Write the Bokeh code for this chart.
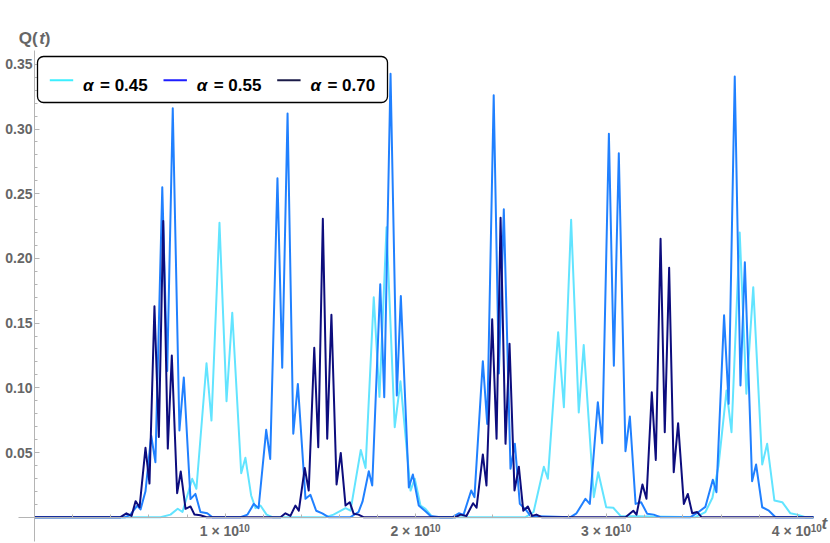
from bokeh.plotting import figure
from bokeh.models import FixedTicker, Label, BoxAnnotation, Range1d, PrintfTickFormatter
from bokeh.embed import file_html
from bokeh.resources import INLINE

# ---------------- data (t in units of 1e10) ----------------
ALPHAS = [0.45, 0.55, 0.70]

T_045 = [0.0, 0.661, 0.713, 0.751, 0.776, 0.827, 0.849, 0.902, 0.928, 0.970,
         1.007, 1.037, 1.084, 1.106, 1.136, 1.159, 1.185, 1.217, 1.248,
         1.526, 1.568, 1.631, 1.657, 1.711, 1.736, 1.779, 1.809, 1.846, 1.889,
         1.919, 1.972, 1.994, 2.024, 2.050, 2.087,
         2.575, 2.617, 2.671, 2.692, 2.746, 2.776, 2.814, 2.854, 2.880, 2.933,
         2.956, 2.998, 3.035, 3.073,
         3.466, 3.518, 3.555, 3.587, 3.629, 3.655, 3.698, 3.733, 3.769, 3.816,
         3.842, 3.880, 3.921, 3.964, 3.999, 4.043, 4.085]
Q_045 = [0, 0, 0.002, 0.0065, 0.004, 0.0297, 0.022, 0.119, 0.0747, 0.2275,
         0.0897, 0.158, 0.034, 0.0459, 0.0168, 0.007, 0.009, 0.002, 0,
         0, 0.002, 0.007, 0.005, 0.052, 0.038, 0.17, 0.093, 0.224, 0.0696,
         0.105, 0.0206, 0.0297, 0.009, 0.0065, 0,
         0, 0.004, 0.039, 0.0297, 0.143, 0.085, 0.2298, 0.081, 0.133, 0.0155,
         0.0348, 0.0077, 0.0073, 0.001,
         0, 0.004, 0.015, 0.04, 0.098, 0.0657, 0.22, 0.0954, 0.1778, 0.0407,
         0.0567, 0.0129, 0.0116, 0.003, 0.002, 0, 0]

T_055 = [0.0, 0.477, 0.503, 0.539, 0.556, 0.582, 0.612, 0.634, 0.670, 0.696,
         0.725, 0.760, 0.783, 0.818, 0.844, 0.870, 0.906, 0.933,
         1.080, 1.117, 1.150, 1.175, 1.215, 1.236, 1.274, 1.299, 1.327, 1.357,
         1.381, 1.421, 1.447, 1.477, 1.509, 1.542,
         1.657, 1.699, 1.720, 1.753, 1.771, 1.813, 1.834, 1.867, 1.900, 1.921,
         1.963, 1.984, 2.015, 2.050, 2.077, 2.129,
         2.192, 2.225, 2.250, 2.290, 2.307, 2.351, 2.374, 2.408, 2.435, 2.461,
         2.496, 2.519, 2.545, 2.575, 2.601,
         2.811, 2.842, 2.889, 2.912, 2.954, 2.977, 3.012, 3.038, 3.064, 3.099,
         3.122, 3.152, 3.181, 3.213, 3.247, 3.282,
         3.440, 3.482, 3.518, 3.557, 3.576, 3.616, 3.640, 3.672, 3.702, 3.725,
         3.763, 3.784, 3.816, 3.851, 3.886, 4.085]
Q_055 = [0, 0, 0.002, 0.009, 0.006, 0.02, 0.063, 0.0425, 0.255, 0.113,
         0.316, 0.067, 0.108, 0.014, 0.018, 0.004, 0.003, 0,
         0, 0.002, 0.0103, 0.007, 0.0675, 0.045, 0.262, 0.1155, 0.312, 0.0645,
         0.103, 0.0142, 0.0173, 0.005, 0.003, 0,
         0, 0.004, 0.012, 0.0355, 0.0245, 0.18, 0.0927, 0.3427, 0.094, 0.171,
         0.023, 0.033, 0.009, 0.0046, 0.001, 0,
         0, 0.003, 0.002, 0.0206, 0.0155, 0.1206, 0.072, 0.326, 0.111, 0.238,
         0.0374, 0.0567, 0.0103, 0.006, 0.001,
         0, 0.003, 0.0142, 0.0103, 0.0889, 0.0572, 0.2963, 0.117, 0.2813, 0.051,
         0.0778, 0.0103, 0.0116, 0.0026, 0.002, 0,
         0, 0.004, 0.008, 0.0289, 0.0193, 0.156, 0.0876, 0.3406, 0.1018, 0.197,
         0.0278, 0.0407, 0.0077, 0.005, 0, 0]

T_070 = [0.0, 0.451, 0.482, 0.509, 0.530, 0.551, 0.582, 0.603, 0.629, 0.652,
         0.675, 0.699, 0.720, 0.748, 0.767, 0.792, 0.818, 0.839, 0.870, 0.902,
         1.290, 1.316, 1.342, 1.368, 1.386, 1.417, 1.438, 1.467, 1.488, 1.512,
         1.535, 1.557, 1.584, 1.606, 1.631, 1.653, 1.674, 1.699, 1.725,
         2.208, 2.234, 2.265, 2.300, 2.318, 2.351, 2.370, 2.400, 2.423, 2.444,
         2.470, 2.491, 2.517, 2.540, 2.563, 2.587, 2.609, 2.632, 2.659,
         3.099, 3.140, 3.157, 3.188, 3.209, 3.237, 3.258, 3.283, 3.305, 3.328,
         3.352, 3.375, 3.405, 3.426, 3.449, 3.475, 3.498, 4.085]
Q_070 = [0, 0, 0.003, 0.001, 0.0124, 0.0077, 0.0536, 0.026, 0.163, 0.062,
         0.229, 0.053, 0.125, 0.0186, 0.0353, 0.0065, 0.0083, 0.002, 0.0015, 0,
         0, 0.003, 0.001, 0.009, 0.005, 0.038, 0.0206, 0.131, 0.054, 0.2306,
         0.0606, 0.1564, 0.0253, 0.0497, 0.009, 0.0116, 0.0026, 0.002, 0,
         0, 0.002, 0.001, 0.0108, 0.0073, 0.0485, 0.0245, 0.153, 0.0606, 0.2314,
         0.0567, 0.134, 0.0206, 0.039, 0.005, 0.0083, 0.001, 0.002, 0,
         0, 0.005, 0.002, 0.0253, 0.0142, 0.0966, 0.0443, 0.2151, 0.0657, 0.1927,
         0.0348, 0.0727, 0.0103, 0.018, 0.003, 0.004, 0, 0]

X_TICKS = [1, 2, 3, 4]                       # x 1e10
Y_TICKS = [0.05, 0.10, 0.15, 0.20, 0.25, 0.30, 0.35]
T_UNIT = 1e10

assert len(T_045) == len(Q_045) and len(T_055) == len(Q_055) and len(T_070) == len(Q_070)

CURVE_COLORS = ["#62E4FF", "#2080FF", "#0D0D7D"]
LEGEND_COLORS = ["#3CEFFF", "#1E1EFF", "#1B1B48"]
GRAY = "#666666"
AXIS_GRAY = "#b4b4b4"
FONT = "Liberation Sans"

W, H = 830, 543
p = figure(width=W, height=H,
           x_range=Range1d(-0.1783 * T_UNIT, 4.1741 * T_UNIT),
           y_range=Range1d(-0.02032, 0.39931),
           output_backend="svg", toolbar_location=None,
           min_border_left=0, min_border_right=0,
           min_border_top=0, min_border_bottom=0,
           outline_line_color=None, background_fill_color="white",
           border_fill_color="white")
p.grid.visible = False

for T, Q, c in [(T_045, Q_045, CURVE_COLORS[0]),
                (T_055, Q_055, CURVE_COLORS[1]),
                (T_070, Q_070, CURVE_COLORS[2])]:
    p.line([t * T_UNIT for t in T], Q, line_color=c, line_width=2,
           line_join="round")

# ---- axes crossing at origin ----
xa = p.xaxis[0]
ya = p.yaxis[0]
xa.fixed_location = 0
ya.fixed_location = 0
xa.bounds = (-0.0839 * T_UNIT, 4.085 * T_UNIT)
ya.bounds = (-0.0188, 0.3607)
for ax in (xa, ya):
    ax.axis_line_color = AXIS_GRAY
    ax.axis_line_width = 1
    ax.major_tick_line_color = AXIS_GRAY
    ax.minor_tick_line_color = AXIS_GRAY
    ax.major_tick_out = 0
    ax.minor_tick_out = 0
    ax.major_label_text_font = FONT
    ax.major_label_text_font_style = "bold"
    ax.major_label_text_font_size = "14px"
    ax.major_label_text_color = GRAY

xa.ticker = FixedTicker(ticks=[v * T_UNIT for v in X_TICKS],
                        minor_ticks=[i * 0.2 * T_UNIT for i in range(1, 21) if i % 5])
xa.major_tick_in = 4
xa.minor_tick_in = 3
xa.major_label_standoff = 6
# base "N × 10" as tick label; trailing no-break spaces leave room for exponent
xa.major_label_overrides = {v * T_UNIT: f"{v} \u00d7 10\u00a0\u00a0\u00a0" for v in X_TICKS}

ya.ticker = FixedTicker(ticks=Y_TICKS,
                        minor_ticks=[i * 0.01 for i in range(1, 36) if i % 5])
ya.formatter = PrintfTickFormatter(format="%.2f")
ya.major_tick_in = 5
ya.minor_tick_in = 3
ya.major_label_standoff = 2

# exponent of the x tick labels
for v in X_TICKS:
    p.add_layout(Label(x=v * T_UNIT, y=H - 527.3, x_units="data", y_units="screen",
                       text="10", text_align="left", x_offset=13.5,
                       text_baseline="alphabetic", text_font=FONT,
                       text_font_style="bold", text_font_size="10px",
                       text_color=GRAY))

def slabel(x, y, text, style, size, color=GRAY):
    """x, y: pixel position from the top-left corner (text baseline)."""
    p.add_layout(Label(x=x, y=H - y, x_units="screen", y_units="screen", text=text,
                       text_baseline="alphabetic", text_font=FONT,
                       text_font_style=style, text_font_size=size,
                       text_color=color))

# axis labels Q(t) and t
slabel(18.3, 37.7, "Q(", "bold", "17px")
slabel(38.7, 37.7, "t", "bold italic", "17px")
slabel(44.3, 37.7, ")", "bold", "17px")
slabel(821.0, 523.3, "t", "bold italic", "17px")

# ---- legend ----
p.add_layout(BoxAnnotation(left=37, right=387, top=H - 56, bottom=H - 102,
                           left_units="screen", right_units="screen",
                           top_units="screen", bottom_units="screen",
                           fill_color="white", fill_alpha=1,
                           line_color="black", line_width=1.3, line_alpha=1,
                           border_radius=6))
ENTRY_DX = 113.7
for i, (a, c) in enumerate(zip(ALPHAS, LEGEND_COLORS)):
    x0 = i * ENTRY_DX
    p.add_layout(BoxAnnotation(left=49.3 + x0, right=72.7 + x0,
                               top=H - 78.7, bottom=H - 80.7,
                               left_units="screen", right_units="screen",
                               top_units="screen", bottom_units="screen",
                               fill_color=c, fill_alpha=1, line_color=None))
    slabel(82.5 + x0, 85, "\u03b1", "bold italic", "17px", "black")
    slabel(99.5 + x0, 85, f"= {a:.2f}", "bold", "17px", "black")

open("out.html", "w").write(file_html(p, INLINE))
